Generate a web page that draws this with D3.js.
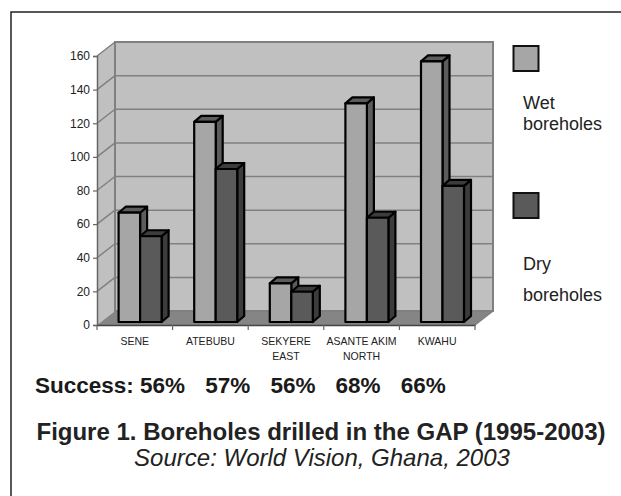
<!DOCTYPE html>
<html>
<head>
<meta charset="utf-8">
<script src="https://cdn.jsdelivr.net/npm/d3@7"></script>
<style>
  html, body { margin: 0; padding: 0; background: #fff; }
  svg { display: block; font-family: "Liberation Sans", Arial, Helvetica, sans-serif; }
</style>
</head>
<body>
<svg id="chart" width="621" height="496"></svg>
<script>
// ---------- data ----------
const categories = ["SENE", "ATEBUBU", "SEKYERE EAST", "ASANTE AKIM NORTH", "KWAHU"];
const categoryLines = [["SENE"], ["ATEBUBU"], ["SEKYERE", "EAST"], ["ASANTE AKIM", "NORTH"], ["KWAHU"]];
const seriesNames = ["Wet boreholes", "Dry boreholes"];
const wetBoreholes = [65, 119, 23, 130, 155];
const dryBoreholes = [51, 91, 18, 62, 81];
const yTickValues = [0, 20, 40, 60, 80, 100, 120, 140, 160];
const successPct = [56, 57, 56, 68, 66];
const titleText = "Figure 1. Boreholes drilled in the GAP (1995-2003)";
const sourceText = "Source: World Vision, Ghana, 2003";

// ---------- layout ----------
const svg = d3.select("#chart");
const X0 = 97, X1 = 475, YTOP = 56, YBOT = 325;
const DX = 18, DY = -14;          // wall depth
const BX = 4, BY = -3;            // bar front plane offset
const BDX = 7, BDY = -6;          // bar depth
const wallGrey = "#c0c0c0", floorGrey = "#858585", lineGrey = "#808080";
const wetFill = "#a6a6a6", wetDark = "#5c5c5c";
const dryFill = "#5a5a5a", dryDark = "#3c3c3c";

const x = d3.scaleBand().domain(categories).range([X0, X1]);
const xs = d3.scaleBand().domain(seriesNames).range([17.6, 60.6]);
const y = d3.scaleLinear().domain([0, 160]).range([YBOT, YTOP]);

// outer frame
svg.append("path").attr("d", "M11,496 L11,12 L621,12")
  .attr("fill", "none").attr("stroke", "#222").attr("stroke-width", 1.5);

// walls
const g = svg.append("g");
g.append("polygon")
  .attr("points", [[X0, y(160)], [X0 + DX, y(160) + DY], [X0 + DX, y(0) + DY], [X0, y(0)]].join(" "))
  .attr("fill", wallGrey);
g.append("rect").attr("x", X0 + DX).attr("y", y(160) + DY)
  .attr("width", X1 - X0).attr("height", y(0) - y(160)).attr("fill", wallGrey);
g.append("polygon")
  .attr("points", [[X0, y(0)], [X0 + DX, y(0) + DY], [X1 + DX, y(0) + DY], [X1, y(0)]].join(" "))
  .attr("fill", floorGrey);

// gridlines
yTickValues.filter(t => t > 0).forEach(t => {
  g.append("line").attr("x1", X0 + DX).attr("x2", X1 + DX)
    .attr("y1", y(t) + DY).attr("y2", y(t) + DY)
    .attr("stroke", lineGrey).attr("stroke-width", 1.5);
  g.append("line").attr("x1", X0).attr("x2", X0 + DX)
    .attr("y1", y(t)).attr("y2", y(t) + DY)
    .attr("stroke", lineGrey).attr("stroke-width", 1.5);
});
// wall edges
g.append("rect").attr("x", X0 + DX).attr("y", y(160) + DY)
  .attr("width", X1 - X0).attr("height", y(0) - y(160))
  .attr("fill", "none").attr("stroke", lineGrey).attr("stroke-width", 2);
g.append("line").attr("x1", X1).attr("y1", y(0)).attr("x2", X1 + DX).attr("y2", y(0) + DY)
  .attr("stroke", lineGrey).attr("stroke-width", 1.5);

// axes
const yAxis = d3.axisLeft(y).tickValues(yTickValues).tickSize(4).tickPadding(3);
const yg = svg.append("g").attr("transform", `translate(${X0},0)`).call(yAxis);
yg.select(".domain").attr("stroke", "#666").attr("stroke-width", 1.5);
yg.selectAll(".tick line").attr("stroke", "#666").attr("stroke-width", 1.2);
yg.selectAll(".tick text").attr("font-size", 12).attr("fill", "#222")
  .attr("font-family", "Liberation Sans, Arial, sans-serif");

const xAxis = d3.axisBottom(x).tickSize(0).tickFormat("");
const xg = svg.append("g").attr("transform", `translate(0,${YBOT})`).call(xAxis);
xg.select(".domain").attr("stroke", "#444").attr("stroke-width", 1.5);
const bounds = categories.map(c => x(c)).concat([X1]);
xg.selectAll("line.bound").data(bounds).enter().append("line")
  .attr("class", "bound").attr("x1", d => d).attr("x2", d => d)
  .attr("y1", 0).attr("y2", 5).attr("stroke", "#666").attr("stroke-width", 1.2);

// category labels
categoryLines.forEach((lines, i) => {
  const cx = x(categories[i]) + x.bandwidth() / 2;
  lines.forEach((ln, j) => {
    svg.append("text").attr("x", cx).attr("y", 345 + j * 15)
      .attr("text-anchor", "middle").attr("font-size", 10.5).attr("fill", "#222").text(ln);
  });
});

// bars
const barData = [];
categories.forEach((c, i) => {
  barData.push({ cat: c, s: seriesNames[0], v: wetBoreholes[i], fill: wetFill, dark: wetDark });
  barData.push({ cat: c, s: seriesNames[1], v: dryBoreholes[i], fill: dryFill, dark: dryDark });
});
const bw = xs.bandwidth();
const bars = svg.append("g");
barData.forEach(d => {
  const x0 = x(d.cat) + xs(d.s) + BX;
  const yt = y(d.v) + BY, yb = y(0) + BY;
  const bg = bars.append("g").attr("stroke", "#000").attr("stroke-width", 2.2).attr("stroke-linejoin", "round");
  bg.append("polygon").attr("points", [[x0 + bw, yt], [x0 + bw + BDX, yt + BDY], [x0 + bw + BDX, yb + BDY], [x0 + bw, yb]].join(" "))
    .attr("fill", d.dark);
  bg.append("polygon").attr("points", [[x0, yt], [x0 + BDX, yt + BDY], [x0 + bw + BDX, yt + BDY], [x0 + bw, yt]].join(" "))
    .attr("fill", d.dark);
  bg.append("rect").attr("x", x0).attr("y", yt).attr("width", bw).attr("height", yb - yt)
    .attr("fill", d.fill);
});

// legend
const legend = [
  { fill: wetFill, sy: 46, lines: ["Wet", "boreholes"], ty: [109, 130] },
  { fill: dryFill, sy: 193, lines: ["Dry", "boreholes"], ty: [270, 301] }
];
legend.forEach(L => {
  svg.append("rect").attr("x", 513.5).attr("y", L.sy).attr("width", 25).attr("height", 25)
    .attr("fill", L.fill).attr("stroke", "#111").attr("stroke-width", 2);
  L.lines.forEach((t, j) => {
    svg.append("text").attr("x", 523).attr("y", L.ty[j]).attr("font-size", 18)
      .attr("fill", "#222").text(t);
  });
});

// success row
svg.append("text").attr("x", 35).attr("y", 393).attr("font-size", 22.5)
  .attr("font-weight", "bold").attr("fill", "#1a1a1a").text("Success:");
successPct.forEach((p, i) => {
  svg.append("text").attr("x", 140 + i * 65.2).attr("y", 393).attr("font-size", 22.5)
    .attr("font-weight", "bold").attr("fill", "#1a1a1a").text(p + "%");
});

// title & source
svg.append("text").attr("x", 321).attr("y", 440).attr("text-anchor", "middle")
  .attr("font-size", 24).attr("font-weight", "bold").attr("fill", "#222").text(titleText);
svg.append("text").attr("x", 322).attr("y", 466).attr("text-anchor", "middle")
  .attr("font-size", 24).attr("font-style", "italic").attr("fill", "#222").text(sourceText);
</script>
</body>
</html>
